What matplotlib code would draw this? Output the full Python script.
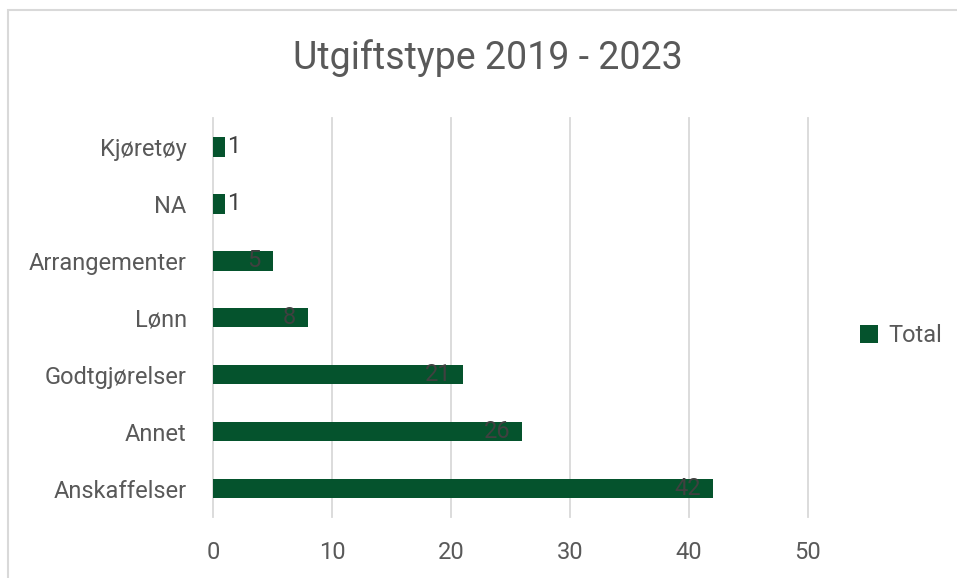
import matplotlib.pyplot as plt
from matplotlib.patches import Rectangle, Patch

plt.rcParams['font.family'] = ['Roboto', 'DejaVu Sans']

# utgifter per type, nederst først
kategorier = ['Anskaffelser', 'Annet', 'Godtgjørelser', 'Lønn', 'Arrangementer', 'NA', 'Kjøretøy']
antall = [42, 26, 21, 8, 5, 1, 1]
xticks = [0, 10, 20, 30, 40, 50]

green = '#05532D'
grey_txt = '#595959'

fig = plt.figure(figsize=(9.57, 5.78), dpi=100)
ax = fig.add_axes([0.2226, 0.1055, 0.6217, 0.6903])

# ramme rundt diagrammet
fig.patches.append(Rectangle((8 / 957, -0.05), 1.0, 1 - 10 / 578 + 0.05,
                             transform=fig.transFigure, fill=False,
                             edgecolor='#d9d9d9', linewidth=1.5))

y = list(range(len(kategorier)))
bars = ax.barh(y, antall, height=0.35, color=green, zorder=3)

for yi, v in zip(y, antall):
    if v < 3:
        ax.text(v + 0.2, yi, str(v), va='center', ha='left', fontsize=17, color='#404040', zorder=4)
    else:
        ax.text(v - 1.0, yi, str(v), va='center', ha='right', fontsize=17, color='#404040', zorder=4)

ax.set_xlim(0, 50)
ax.set_ylim(-0.5, len(kategorier) - 0.5)
ax.set_yticks(y)
ax.set_yticklabels(kategorier, fontsize=17, color=grey_txt)
ax.set_xticks(xticks)
ax.set_xticklabels([str(t) for t in xticks], fontsize=17, color=grey_txt)
ax.tick_params(axis='both', length=0)
ax.tick_params(axis='y', pad=19)
ax.tick_params(axis='x', pad=17)

for s in ax.spines.values():
    s.set_visible(False)
for t in xticks:
    ax.axvline(t, color='#d9d9d9', linewidth=1.3, zorder=1, clip_on=False)

fig.text(0.51, 0.90, 'Utgiftstype 2019 - 2023', ha='center', va='center', fontsize=27, color=grey_txt)

fig.legend(handles=[Patch(facecolor=green, label='Total')], loc='center left',
           bbox_to_anchor=(0.876, 0.42), frameon=False, fontsize=17,
           handlelength=0.8, handleheight=0.8, handletextpad=0.4, labelcolor=grey_txt)

fig.savefig('out.png', dpi=100)
